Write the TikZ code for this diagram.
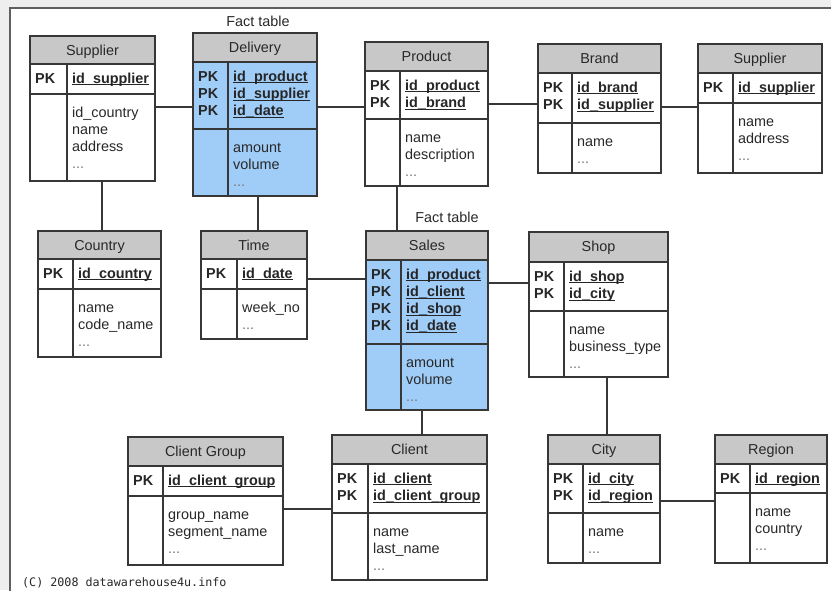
\documentclass[tikz,border=0pt]{standalone}
\usepackage{fontspec}
\setmainfont{Liberation Sans}
\newfontfamily\monof{DejaVu Sans Mono}
\usetikzlibrary{fit}
\definecolor{hdrgray}{RGB}{200,200,200}
\definecolor{factblue}{RGB}{160,205,248}
\definecolor{linegray}{RGB}{55,55,55}
\definecolor{txtgray}{RGB}{40,40,40}
\definecolor{dotgray}{RGB}{120,120,120}
\definecolor{bggray}{RGB}{238,238,238}
\definecolor{framegray}{RGB}{95,95,95}
\newcommand\ulbox[1]{\setbox0\hbox{#1}\rlap{\rule[-2.2pt]{\wd0}{1pt}}\box0}
\newcommand\more{\textcolor{dotgray}{...}}
\tikzset{
  boxline/.style={draw=linegray, line width=1.5pt},
  conn/.style={draw=linegray, line width=1.3pt},
  ttl/.style={anchor=base, inner sep=0pt, font=\fontsize{14.4}{17}\selectfont, text=txtgray},
  pkt/.style={anchor=base west, inner sep=0pt, font=\fontsize{14.4}{17}\selectfont\bfseries, text=black!85},
  att/.style={anchor=base west, inner sep=0pt, font=\fontsize{14.4}{17}\selectfont, text=txtgray},
}
% name x1 x2 xd y0 y1 y2 y3 bodyfill
\newcommand\ertable[9]{%
  \fill[#9] (#2,#6) rectangle (#3,#8);
  \fill[hdrgray] (#2,#5) rectangle (#3,#6);
  \draw[boxline] (#2,#6) -- (#3,#6) (#2,#7) -- (#3,#7) (#4,#6) -- (#4,#8);
  \node[fit={(#2,#5) (#3,#8)}, inner sep=0pt, boxline] (#1) {};
  \coordinate (#1-t) at ({(#2+#3)/2},{#5+19.5});
  \coordinate (#1-p) at ({#2+5},{#6+19});
  \coordinate (#1-k) at ({#4+5},{#6+19});
  \coordinate (#1-a) at ({#4+5},{#7+23});
}
% name title keys attrs
\newcommand\ertext[4]{%
  \node[ttl] (#1-title) at (#1-t) {#2};
  \foreach \kk [count=\i from 0] in {#3} {
    \node[pkt] (#1-pk\i) at ([yshift=-\i*17.3pt]#1-p) {PK};
    \node[pkt] (#1-key\i) at ([yshift=-\i*17.3pt]#1-k) {\ulbox{\kk}};
  }
  \foreach \aa [count=\i from 0] in {#4} {
    \node[att] (#1-att\i) at ([yshift=-\i*17.3pt]#1-a) {\aa};
  }
}
\begin{document}
\begin{tikzpicture}[x=1pt,y=-1pt]
\useasboundingbox (0,0) rectangle (831,590);
\fill[bggray] (0,0) rectangle (831,590);
\fill[white] (10,8) rectangle (840,600);
\draw[framegray, line width=1.5pt] (10,600) -- (10,8) -- (840,8);

% tables
\ertable{supL}{30}{155}{67}{36}{64}{94}{181}{white}
\ertext{supL}{Supplier}{id\_supplier}{id\_country,name,address,\more}
\ertable{deliv}{193}{317}{228}{33}{62}{129}{196}{factblue}
\ertext{deliv}{Delivery}{id\_product,id\_supplier,id\_date}{amount,volume,\more}
\ertable{prod}{365}{488}{400}{42}{71}{119}{186}{white}
\ertext{prod}{Product}{id\_product,id\_brand}{name,description,\more}
\ertable{brand}{538}{661}{572}{44}{73}{123}{173}{white}
\ertext{brand}{Brand}{id\_brand,id\_supplier}{name,\more}
\ertable{supR}{698}{822}{733}{44}{73}{103}{173}{white}
\ertext{supR}{Supplier}{id\_supplier}{name,address,\more}
\ertable{country}{38}{161}{73}{231}{259}{289}{357}{white}
\ertext{country}{Country}{id\_country}{name,code\_name,\more}
\ertable{time}{201}{307}{237}{231}{259}{289}{339}{white}
\ertext{time}{Time}{id\_date}{week\_no,\more}
\ertable{sales}{366}{488}{401}{231}{260}{344}{410}{factblue}
\ertext{sales}{Sales}{id\_product,id\_client,id\_shop,id\_date}{amount,volume,\more}
\ertable{shop}{529}{668}{564}{232}{262}{311}{377}{white}
\ertext{shop}{Shop}{id\_shop,id\_city}{name,business\_type,\more}
\ertable{cgroup}{128}{283}{163}{437}{466}{496}{565}{white}
\ertext{cgroup}{Client Group}{id\_client\_group}{group\_name,segment\_name,\more}
\ertable{client}{332}{487}{368}{435}{464}{513}{580}{white}
\ertext{client}{Client}{id\_client,id\_client\_group}{name,last\_name,\more}
\ertable{city}{548}{660}{583}{435}{464}{513}{563}{white}
\ertext{city}{City}{id\_city,id\_region}{name,\more}
\ertable{region}{715}{827}{750}{435}{464}{493}{563}{white}
\ertext{region}{Region}{id\_region}{name,country,\more}

% connectors
\draw[conn] (supL.east |- 0,107) -- (deliv.west |- 0,107);
\draw[conn] (deliv.east |- 0,107) -- (prod.west |- 0,107);
\draw[conn] (prod.east |- 0,104) -- (brand.west |- 0,104);
\draw[conn] (brand.east |- 0,107) -- (supR.west |- 0,107);
\draw[conn] (supL.south -| 102,0) -- (country.north -| 102,0);
\draw[conn] (deliv.south -| 258,0) -- (time.north -| 258,0);
\draw[conn] (prod.south -| 397,0) -- (sales.north -| 397,0);
\draw[conn] (time.east |- 0,279) -- (sales.west |- 0,279);
\draw[conn] (sales.east |- 0,283) -- (shop.west |- 0,283);
\draw[conn] (sales.south -| 422,0) -- (client.north -| 422,0);
\draw[conn] (shop.south -| 607,0) -- (city.north -| 607,0);
\draw[conn] (cgroup.east |- 0,509) -- (client.west |- 0,509);
\draw[conn] (city.east |- 0,501) -- (region.west |- 0,501);

% labels
\node[ttl] (ft1) at (258,26) {Fact table};
\node[ttl] (ft2) at (447,222) {Fact table};
\node[anchor=base west, inner sep=0pt, font=\monof\fontsize{11.7}{14}\selectfont, text=txtgray] (copy) at (22,586) {(C) 2008 datawarehouse4u.info};
\end{tikzpicture}
\end{document}
